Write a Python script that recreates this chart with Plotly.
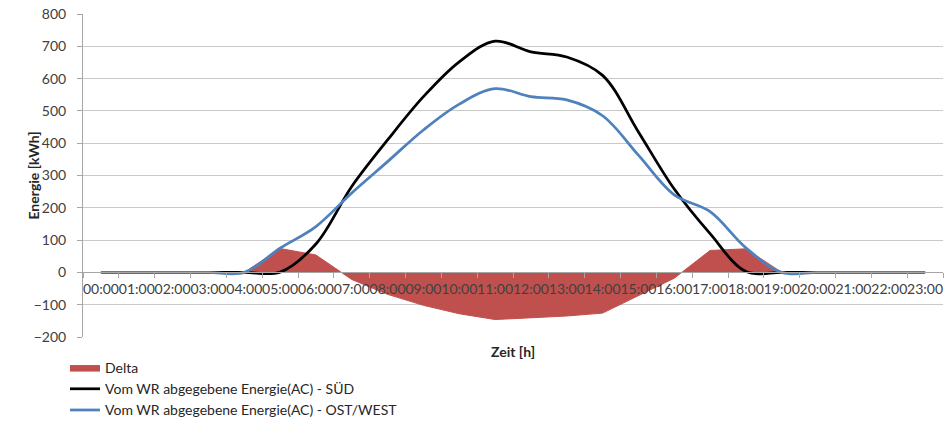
import plotly.graph_objects as go

# Hourly categories on the horizontal axis
hours = [
    "00:00", "01:00", "02:00", "03:00", "04:00", "05:00", "06:00", "07:00",
    "08:00", "09:00", "10:00", "11:00", "12:00", "13:00", "14:00", "15:00",
    "16:00", "17:00", "18:00", "19:00", "20:00", "21:00", "22:00", "23:00",
]

# Difference OST/WEST minus SÜD per hour [kWh]
delta = [0, 0, 0, 0, 0, 74, 54, -22, -68, -102, -128, -146,
         -140, -135, -126, -72, -18, 68, 73, 0, 0, 0, 0, 0]

# Inverter AC output, south-facing array [kWh]
sued = [0, 0, 0, 0, 0, 1, 88, 266, 410, 544, 652, 716,
        683, 667, 610, 435, 258, 120, 3, 0, 0, 0, 0, 0]

# Inverter AC output, east/west array [kWh]
ost_west = [0, 0, 0, 0, 0, 75, 142, 246, 343, 441, 521, 569,
            544, 534, 485, 363, 240, 188, 76, 0, 0, 0, 0, 0]

RED = "#C0504D"
BLUE = "#4F81BD"
GRID = "#C9C9C9"
AXIS = "#A6A6A6"
TEXT = "#404040"
FONT = "Lato"

fig = go.Figure()

fig.add_trace(go.Scatter(
    x=hours, y=delta, name="Delta", mode="lines",
    fill="tozeroy", fillcolor=RED,
    line=dict(color=RED, width=1),
))
fig.add_trace(go.Scatter(
    x=hours, y=sued, name="Vom WR abgegebene Energie(AC) - SÜD", mode="lines",
    line=dict(color="#000000", width=2.75, shape="spline"),
))
fig.add_trace(go.Scatter(
    x=hours, y=ost_west, name="Vom WR abgegebene Energie(AC) - OST/WEST", mode="lines",
    line=dict(color=BLUE, width=2.75, shape="spline"),
))

fig.update_layout(
    width=947, height=424,
    margin=dict(l=83, r=4, t=14, b=87, autoexpand=False),
    paper_bgcolor="white", plot_bgcolor="white",
    font=dict(family=FONT, size=14, color=TEXT),
    showlegend=True,
    legend=dict(
        x=-0.0209, xanchor="left", y=-0.0464, yanchor="top",
        bgcolor="rgba(0,0,0,0)", font=dict(size=14, color="#262626"),
        tracegroupgap=0,
    ),
    xaxis=dict(
        type="category", range=[-0.5, 23.5],
        tickmode="linear", tick0=0, dtick=1,
        anchor="free", position=0.2,
        showline=True, linecolor=AXIS, linewidth=1,
        ticks="outside", tickson="boundaries", ticklen=5, tickcolor=AXIS,
        showgrid=False, tickangle=0, ticklabelstandoff=4,
        tickfont=dict(size=14, color=TEXT),
    ),
    yaxis=dict(
        range=[-200, 800], tickmode="linear", tick0=0, dtick=100,
        showgrid=True, gridcolor=GRID, gridwidth=1, zeroline=False,
        showline=True, linecolor=AXIS, linewidth=1,
        ticks="outside", ticklen=5, tickcolor=AXIS, ticklabelstandoff=8,
        tickfont=dict(size=14, color=TEXT),
    ),
    annotations=[
        dict(text="<b>Energie [kWh]</b>", textangle=-90,
             xref="paper", yref="paper", x=-0.0581, y=0.5,
             xanchor="center", yanchor="middle", showarrow=False,
             font=dict(size=14, color="#262626")),
        dict(text="<b>Zeit [h]</b>",
             xref="paper", yref="paper", x=0.5, y=-0.0464,
             xanchor="center", yanchor="middle", showarrow=False,
             font=dict(size=14, color="#262626")),
    ],
)

fig.write_html("out.html")
